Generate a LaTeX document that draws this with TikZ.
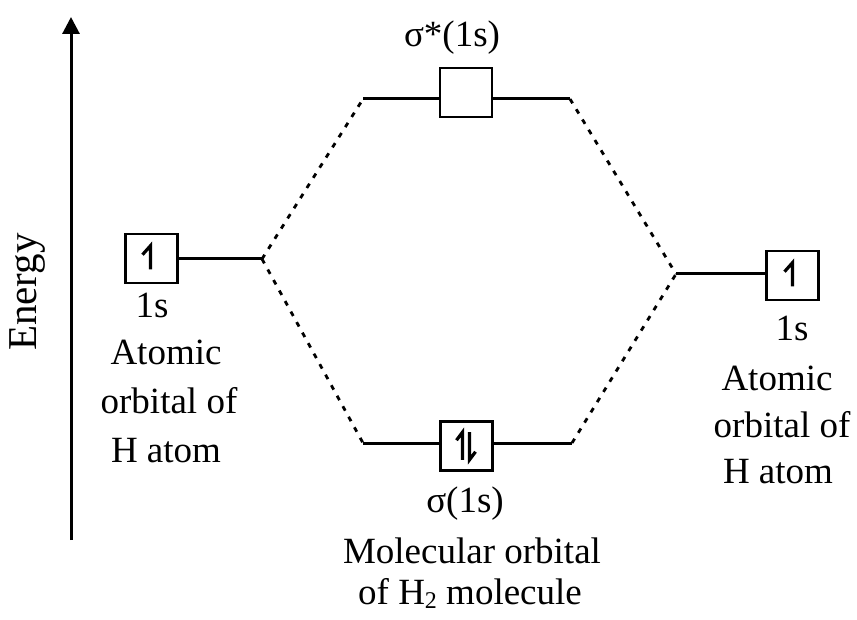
\documentclass[tikz,border=0pt]{standalone}
\usepackage{fontspec}
\setmainfont{Liberation Serif}
\usetikzlibrary{arrows.meta}
\begin{document}
\begin{tikzpicture}[x=1pt,y=-1pt,
  lbl/.style={font=\fontsize{37}{42}\selectfont, anchor=base, inner sep=0pt},
  orb/.style={draw, line width=2.6pt, minimum width=52pt, minimum height=49pt, inner sep=0pt},
  level/.style={line width=3pt},
  corr/.style={line width=2.8pt, dash pattern=on 5pt off 7pt},
  spin/.style={line width=3.2pt}]
\useasboundingbox (0,0) rectangle (857,620);
% energy axis
\coordinate (ebot) at (71,540);
\coordinate (etop) at (71,17);
\draw[line width=3pt, -{Triangle[length=17pt,width=17pt]}] (ebot) -- (etop);
\node[lbl, font=\fontsize{41}{46}\selectfont, rotate=90, anchor=center] (energy) at (28,292) {Energy};
% boxes
\node[orb] (L) at (151.5,258.5) {};
\node[orb] (R) at (792.5,275.5) {};
\node[orb] (S) at (466.5,446) {};
\node[orb] (A) at (466,92.5) {};
% level lines
\coordinate (Lend) at (262,259);
\coordinate (Rend) at (676,274);
\coordinate (Sl) at (363,443);
\coordinate (Sr) at (572,443);
\coordinate (Al) at (363,99);
\coordinate (Ar) at (570,99);
\draw[level] (L.east |- Lend) -- (Lend);
\draw[level] (Rend) -- (R.west |- Rend);
\draw[level] (Sl) -- (S.west |- Sl);
\draw[level] (S.east |- Sr) -- (Sr);
\draw[level] (Al) -- (A.west |- Al);
\draw[level] (A.east |- Ar) -- (Ar);
% correlation lines
\draw[corr] (Lend) -- (Al);
\draw[corr] (Lend) -- (Sl);
\draw[corr] (Ar) -- (Rend);
\draw[corr] (Sr) -- (Rend);
% electrons
\draw[spin] ([xshift=-1pt,yshift=15pt]L.south) -- ([xshift=-1pt,yshift=-13pt]L.north) -- ++(-8,9);
\draw[spin] ([xshift=0pt,yshift=15pt]R.south) -- ([xshift=0pt,yshift=-13pt]R.north) -- ++(-8,9);
\draw[spin] ([xshift=-4pt,yshift=12pt]S.south) -- ([xshift=-4pt,yshift=-12pt]S.north) -- ++(-6,8);
\draw[spin] ([xshift=3pt,yshift=-12pt]S.north) -- ([xshift=3pt,yshift=12pt]S.south) -- ++(6,-8);
% labels
\node[lbl] (astar) at (452,47) {σ*(1s)};
\node[lbl] (l1) at (152,318) {1s};
\node[lbl] (l2) at (166,364) {Atomic};
\node[lbl] (l3) at (169,413) {orbital of};
\node[lbl] (l4) at (166,462) {H atom};
\node[lbl] (r1) at (792,341) {1s};
\node[lbl] (r2) at (777,390) {Atomic};
\node[lbl] (r3) at (782,437) {orbital of};
\node[lbl] (r4) at (778,483) {H atom};
\node[lbl] (s1) at (465,512) {σ(1s)};
\node[lbl] (s2) at (472,563) {Molecular orbital};
\node[lbl] (s3) at (470,604) {of H\raisebox{-0.12em}{\fontsize{24}{24}\selectfont 2} molecule};
\end{tikzpicture}
\end{document}
